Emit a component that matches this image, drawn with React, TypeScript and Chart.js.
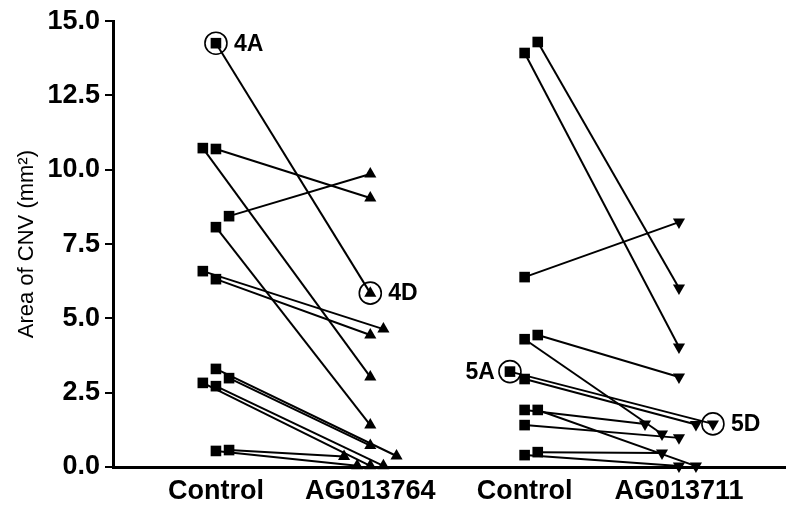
import React, { useEffect, useRef } from "react";
import { Chart, registerables } from "chart.js";

Chart.register(...registerables);

// ---- data ----
const categories = ["Control", "AG013764", "Control", "AG013711"];
const yTicks = [0, 2.5, 5, 7.5, 10, 12.5, 15];

// Group 1: Control -> AG013764 (paired eyes)
const ctrlA = [14.26, 10.73, 10.7, 8.44, 8.07, 6.59, 6.32, 3.3, 2.99, 2.83, 2.72, 0.54, 0.57];
const ctrlAJitter = [0, -0.085, 0, 0.085, 0, -0.085, 0, 0, 0.085, -0.085, 0, 0, 0.085];
const drugA = [5.85, 3.03, 9.05, 9.86, 1.41, 4.64, 4.44, 0.37, 0.72, 0.04, 0.04, 0.04, 0.35];
const drugAJitter = [0, 0, 0, 0, 0, 0.085, 0, 0.17, 0, 0, 0.085, -0.085, -0.17];

// Group 2: Control -> AG013711 (paired eyes)
const ctrlB = [14.3, 13.93, 6.39, 4.44, 4.3, 3.21, 2.96, 1.92, 1.92, 1.41, 0.4, 0.5];
const ctrlBJitter = [0.085, 0, 0, 0.085, 0, -0.095, 0, 0, 0.085, 0, 0, 0.085];
const drugB = [6.02, 4.04, 8.24, 3.03, 1.11, 1.45, 1.43, 1.45, 0.03, 0.98, 0.03, 0.47];
const drugBJitter = [0, 0, 0, 0, -0.11, 0.22, 0.11, -0.22, 0.11, 0, 0, -0.11];

const annotations = [
  { text: "4A", group: 0, end: 0, index: 0, side: "right" },
  { text: "4D", group: 0, end: 1, index: 0, side: "right" },
  { text: "5A", group: 1, end: 0, index: 5, side: "left" },
  { text: "5D", group: 1, end: 1, index: 5, side: "right" },
];

const groups = [
  { ctrlPos: 1, drugPos: 2, ctrl: ctrlA, ctrlJ: ctrlAJitter, drug: drugA, drugJ: drugAJitter, down: false },
  { ctrlPos: 3, drugPos: 4, ctrl: ctrlB, ctrlJ: ctrlBJitter, drug: drugB, drugJ: drugBJitter, down: true },
];

const FONT = 'Arial, "Liberation Sans", Helvetica, sans-serif';

const annotationPlugin = {
  id: "annotCircles",
  afterDatasetsDraw(chart: any) {
    const ctx = chart.ctx;
    const xs = chart.scales.x;
    const ys = chart.scales.y;
    annotations.forEach((a) => {
      const g = groups[a.group];
      const xv = a.end === 0 ? g.ctrlPos + g.ctrlJ[a.index] : g.drugPos + g.drugJ[a.index];
      const yv = a.end === 0 ? g.ctrl[a.index] : g.drug[a.index];
      const px = xs.getPixelForValue(xv);
      const py = ys.getPixelForValue(yv);
      ctx.save();
      ctx.beginPath();
      ctx.arc(px, py, 11, 0, Math.PI * 2);
      ctx.lineWidth = 1.6;
      ctx.strokeStyle = "#000";
      ctx.stroke();
      ctx.font = `bold 23px ${FONT}`;
      ctx.fillStyle = "#000";
      ctx.textBaseline = "middle";
      if (a.side === "right") {
        ctx.textAlign = "left";
        ctx.fillText(a.text, px + 18, py + 1);
      } else {
        ctx.textAlign = "right";
        ctx.fillText(a.text, px - 15, py + 1);
      }
      ctx.restore();
    });
  },
};

export default function App() {
  const ref = useRef<HTMLCanvasElement>(null);

  useEffect(() => {
    if (!ref.current) return;
    const datasets: any[] = [];
    groups.forEach((g) => {
      g.ctrl.forEach((v, i) => {
        datasets.push({
          data: [
            { x: g.ctrlPos + g.ctrlJ[i], y: v },
            { x: g.drugPos + g.drugJ[i], y: g.drug[i] },
          ],
          showLine: true,
          borderColor: "#000",
          borderWidth: 2,
          backgroundColor: "#000",
          pointBackgroundColor: "#000",
          pointBorderColor: "#000",
          pointBorderWidth: 0,
          pointStyle: ["rect", "triangle"],
          pointRotation: [0, g.down ? 180 : 0],
          pointRadius: [7.5, 7],
          clip: false,
        });
      });
    });

    const chart = new Chart(ref.current, {
      type: "scatter",
      data: { datasets },
      plugins: [annotationPlugin],
      options: {
        animation: false,
        responsive: false,
        layout: { padding: { top: 21, right: 15, left: 6, bottom: 0 } },
        plugins: { legend: { display: false }, tooltip: { enabled: false } },
        scales: {
          x: {
            type: "linear",
            min: 0.333,
            max: 4.687,
            afterBuildTicks: (s: any) => {
              s.ticks = categories.map((_, i) => ({ value: i + 1 }));
            },
            afterFit: (s: any) => {
              s.height = 50;
            },
            ticks: {
              callback: (v: any) => categories[Math.round(Number(v)) - 1] ?? "",
              font: { family: FONT, size: 27, weight: "bold" },
              color: "#000",
              padding: 8,
              autoSkip: false,
              maxRotation: 0,
            },
            grid: { display: false, drawTicks: false },
            border: { display: true, color: "#000", width: 3 },
          },
          y: {
            min: 0,
            max: 15,
            afterBuildTicks: (s: any) => {
              s.ticks = yTicks.map((v) => ({ value: v }));
            },
            afterFit: (s: any) => {
              s.width = 107;
            },
            ticks: {
              callback: (v: any) => Number(v).toFixed(1),
              font: { family: FONT, size: 27, weight: "bold" },
              color: "#000",
              padding: 5,
            },
            grid: {
              display: true,
              drawOnChartArea: false,
              drawTicks: true,
              tickLength: 8,
              color: "#000",
              lineWidth: 2,
            },
            border: { display: true, color: "#000", width: 3 },
            title: {
              display: true,
              text: "Area of CNV (mm²)",
              font: { family: FONT, size: 22 },
              color: "#000",
              padding: { top: 8, bottom: 0 },
            },
          },
        },
      },
    });
    return () => chart.destroy();
  }, []);

  return (
    <div style={{ position: "fixed", left: 0, top: 0, width: 800, height: 517, background: "#fff" }}>
      <canvas ref={ref} width={800} height={517} />
    </div>
  );
}
